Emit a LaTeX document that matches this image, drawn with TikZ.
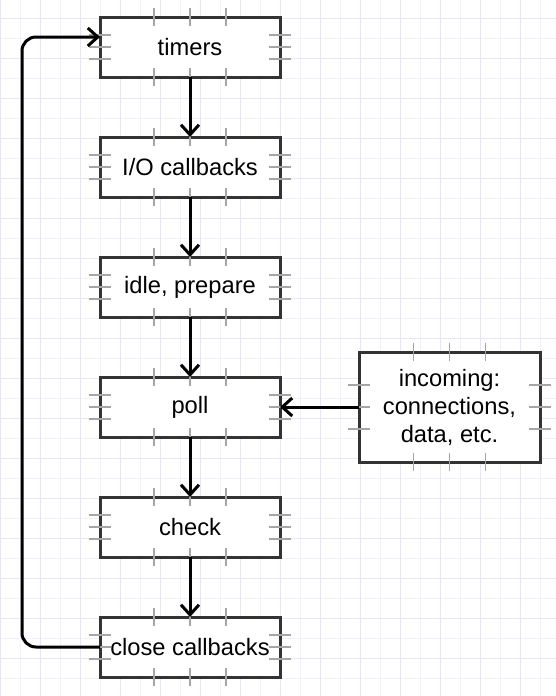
\documentclass[tikz,border=0pt]{standalone}
\usepackage{fontspec}
\setmainfont{Liberation Sans}
\usetikzlibrary{positioning,calc,arrows.meta}
\tikzset{
    phase/.style={draw=black!80, line width=3pt, fill=white, minimum width=180pt,
        minimum height=60pt, inner sep=0pt, outer sep=0pt, align=center,
        font=\fontsize{23.7pt}{28pt}\selectfont},
    flow/.style={line width=3pt, -{Straight Barb[length=10pt,width=18pt]}},
    tick/.style={draw=gray!70, line width=1.2pt},
    gridlight/.style={draw=blue!6, line width=1pt},
    griddark/.style={draw=blue!10, line width=1pt},
}
\begin{document}
\begin{tikzpicture}[x=1pt, y=-1pt]
    \useasboundingbox (0, 0) rectangle (556, 696);
    %背景网格
    \foreach \x in {0.7, 20.7, ..., 556} \draw[gridlight] (\x, 0) -- (\x, 696);
    \foreach \y in {-1.7, 18.3, ..., 696} \draw[gridlight] (0, \y) -- (556, \y);
    \foreach \x in {0.7, 40.7, ..., 556} \draw[griddark] (\x, 0) -- (\x, 696);
    \foreach \y in {18.3, 58.3, ..., 696} \draw[griddark] (0, \y) -- (556, \y);
    %各阶段
    \node[phase] (timers) at (190, 47) {timers};
    \node[phase, below=60pt of timers] (io) {I/O callbacks};
    \node[phase, below=60pt of io] (idle) {idle, prepare};
    \node[phase, below=60pt of idle] (poll) {poll};
    \node[phase, below=60pt of poll] (check) {check};
    \node[phase, below=60pt of check] (close) {close callbacks};
    \node[phase, right=79pt of poll, minimum width=181pt, minimum height=110pt] (incoming)
        {incoming:\\connections,\\data, etc.};
    %连接点标记
    \foreach \b in {timers, io, idle, poll, check, close, incoming}
        \foreach \f in {0.3, 0.5, 0.7} {
            \draw[tick] ($(\b.north west)!\f!(\b.north east)$) +(0, -9pt) -- +(0, 9pt);
            \draw[tick] ($(\b.south west)!\f!(\b.south east)$) +(0, -9pt) -- +(0, 9pt);
            \draw[tick] ($(\b.north west)!\f!(\b.south west)$) +(-11pt, 0) -- +(11pt, 0);
            \draw[tick] ($(\b.north east)!\f!(\b.south east)$) +(-11pt, 0) -- +(11pt, 0);
        }
    %箭头
    \draw[flow] (timers) -- (io);
    \draw[flow] (io) -- (idle);
    \draw[flow] (idle) -- (poll);
    \draw[flow] (poll) -- (check);
    \draw[flow] (check) -- (close);
    \draw[flow] (incoming) -- (poll);
    \coordinate (back) at ([xshift=-78pt]close.west);
    \draw[flow, rounded corners=14pt] (close.west) -- (back) |- ([yshift=10pt]timers.west);
\end{tikzpicture}
\end{document}
